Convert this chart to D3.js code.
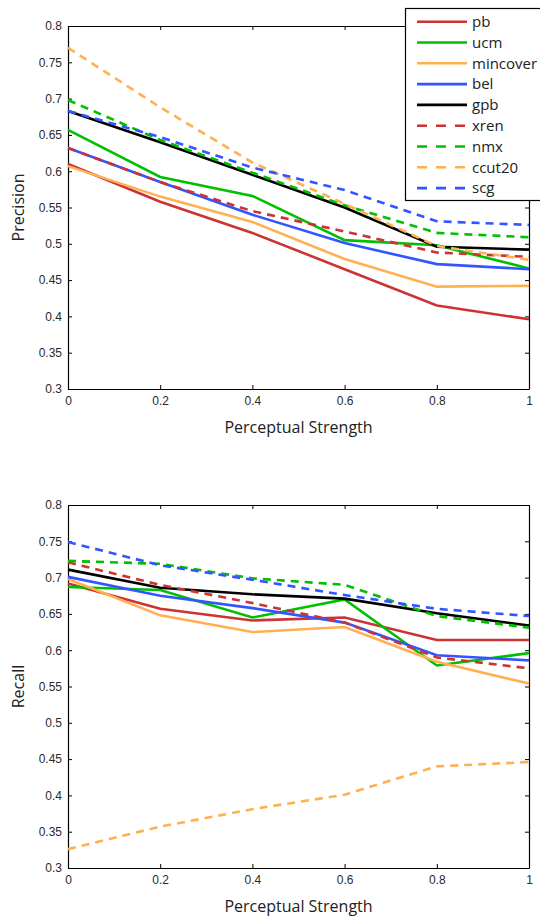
<!DOCTYPE html>
<html>
<head>
<meta charset="utf-8">
<script src="https://cdn.jsdelivr.net/npm/d3@7"></script>
<style>
  body { margin: 0; background: #fff; }
  svg { display: block; font-family: "Open Sans", sans-serif; }
  .tick text { fill: #2a2a2a; font-size: 12px; }
  .axis path, .axis line { stroke: #000; }
</style>
</head>
<body>
<div id="chart"></div>
<script>
// data
const strength = [0, 0.2, 0.4, 0.6, 0.8, 1]
const xTicks = [0, 0.2, 0.4, 0.6, 0.8, 1]
const yTicks = [0.3, 0.35, 0.4, 0.45, 0.5, 0.55, 0.6, 0.65, 0.7, 0.75, 0.8]

const methods = ["pb", "ucm", "mincover", "bel", "gpb", "xren", "nmx", "ccut20", "scg"]

const precision_pb       = [0.610, 0.558, 0.515, 0.465, 0.415, 0.396]
const precision_ucm      = [0.657, 0.592, 0.566, 0.505, 0.498, 0.466]
const precision_mincover = [0.607, 0.565, 0.530, 0.479, 0.441, 0.442]
const precision_bel      = [0.632, 0.585, 0.540, 0.501, 0.472, 0.465]
const precision_gpb      = [0.683, 0.640, 0.595, 0.550, 0.496, 0.492]
const precision_xren     = [0.632, 0.585, 0.545, 0.517, 0.488, 0.482]
const precision_nmx      = [0.698, 0.643, 0.598, 0.553, 0.515, 0.509]
const precision_ccut20   = [0.770, 0.688, 0.612, 0.555, 0.497, 0.478]
const precision_scg      = [0.683, 0.647, 0.605, 0.574, 0.531, 0.526]

const recall_pb       = [0.692, 0.657, 0.641, 0.645, 0.614, 0.614]
const recall_ucm      = [0.687, 0.683, 0.645, 0.670, 0.579, 0.596]
const recall_mincover = [0.698, 0.648, 0.625, 0.632, 0.584, 0.554]
const recall_bel      = [0.701, 0.675, 0.658, 0.638, 0.593, 0.586]
const recall_gpb      = [0.711, 0.686, 0.677, 0.671, 0.651, 0.634]
const recall_xren     = [0.721, 0.690, 0.665, 0.638, 0.590, 0.575]
const recall_nmx      = [0.723, 0.719, 0.699, 0.690, 0.647, 0.631]
const recall_ccut20   = [0.326, 0.357, 0.381, 0.401, 0.440, 0.446]
const recall_scg      = [0.749, 0.717, 0.697, 0.676, 0.657, 0.647]

const precisionSeries = [precision_pb, precision_ucm, precision_mincover, precision_bel, precision_gpb,
    precision_xren, precision_nmx, precision_ccut20, precision_scg]
const recallSeries = [recall_pb, recall_ucm, recall_mincover, recall_bel, recall_gpb,
    recall_xren, recall_nmx, recall_ccut20, recall_scg]

const colors = ["#cc3333", "#00c000", "#ffb050", "#3355ff", "#000000", "#cc3333", "#00c000", "#ffb050", "#3355ff"]
const dashed = [false, false, false, false, false, true, true, true, true]

const W = 540, H = 916
const svg = d3.select("#chart").append("svg")
    .attr("width", W)
    .attr("height", H)

const left = 68, right = 529

function panel(top, bottom, series, yLabel) {
    let x = d3.scaleLinear().domain([0, 1]).range([left, right])
    let y = d3.scaleLinear().domain([0.3, 0.8]).range([bottom, top])

    let g = svg.append("g")

    // box axes with inward ticks
    g.append("g").attr("class", "axis")
        .attr("transform", `translate(0,${bottom})`)
        .call(d3.axisBottom(x).tickValues(xTicks).tickFormat(d3.format("")).tickSizeInner(-4).tickSizeOuter(0).tickPadding(7))
    g.append("g").attr("class", "axis")
        .attr("transform", `translate(0,${top})`)
        .call(d3.axisTop(x).tickValues(xTicks).tickFormat("").tickSizeInner(-4).tickSizeOuter(0))
    g.append("g").attr("class", "axis")
        .attr("transform", `translate(${left},0)`)
        .call(d3.axisLeft(y).tickValues(yTicks).tickFormat(d3.format("")).tickSizeInner(-4).tickSizeOuter(0).tickPadding(6))
    g.append("g").attr("class", "axis")
        .attr("transform", `translate(${right},0)`)
        .call(d3.axisRight(y).tickValues(yTicks).tickFormat("").tickSizeInner(-4).tickSizeOuter(0))

    g.selectAll(".axis .domain").attr("stroke-width", 1.2)

    const line = d3.line()
        .x((d, i) => x(strength[i]))
        .y(d => y(d))

    g.selectAll(".series")
        .data(series)
        .enter()
        .append("path")
        .attr("class", "series")
        .attr("fill", "none")
        .attr("stroke", (d, i) => colors[i])
        .attr("stroke-width", 2.6)
        .attr("stroke-dasharray", (d, i) => dashed[i] ? "8,6" : null)
        .attr("d", line)

    g.append("text")
        .attr("x", (left + right) / 2)
        .attr("y", bottom + 44)
        .attr("text-anchor", "middle")
        .attr("font-size", 16)
        .attr("fill", "#222")
        .text("Perceptual Strength")

    g.append("text")
        .attr("transform", `translate(24,${(top + bottom) / 2}) rotate(-90)`)
        .attr("text-anchor", "middle")
        .attr("font-size", 16)
        .attr("fill", "#222")
        .text(yLabel)
}

panel(26, 389, precisionSeries, "Precision")
panel(505, 868, recallSeries, "Recall")

// legend
const legend = svg.append("g")
legend.append("rect")
    .attr("x", 405.5).attr("y", 8.5)
    .attr("width", 150).attr("height", 192)
    .attr("fill", "#fff")
    .attr("stroke", "#000")
    .attr("stroke-width", 1.2)

const item = legend.selectAll(".item")
    .data(methods)
    .enter()
    .append("g")
    .attr("class", "item")
    .attr("transform", (d, i) => `translate(0,${21.7 + i * 20.8})`)

item.append("line")
    .attr("x1", 417).attr("x2", 467)
    .attr("stroke", (d, i) => colors[i])
    .attr("stroke-width", 2.6)
    .attr("stroke-dasharray", (d, i) => dashed[i] ? "10,9" : null)

item.append("text")
    .attr("x", 472)
    .attr("dy", "0.35em")
    .attr("font-size", 15)
    .attr("fill", "#222")
    .text(d => d)
</script>
</body>
</html>
